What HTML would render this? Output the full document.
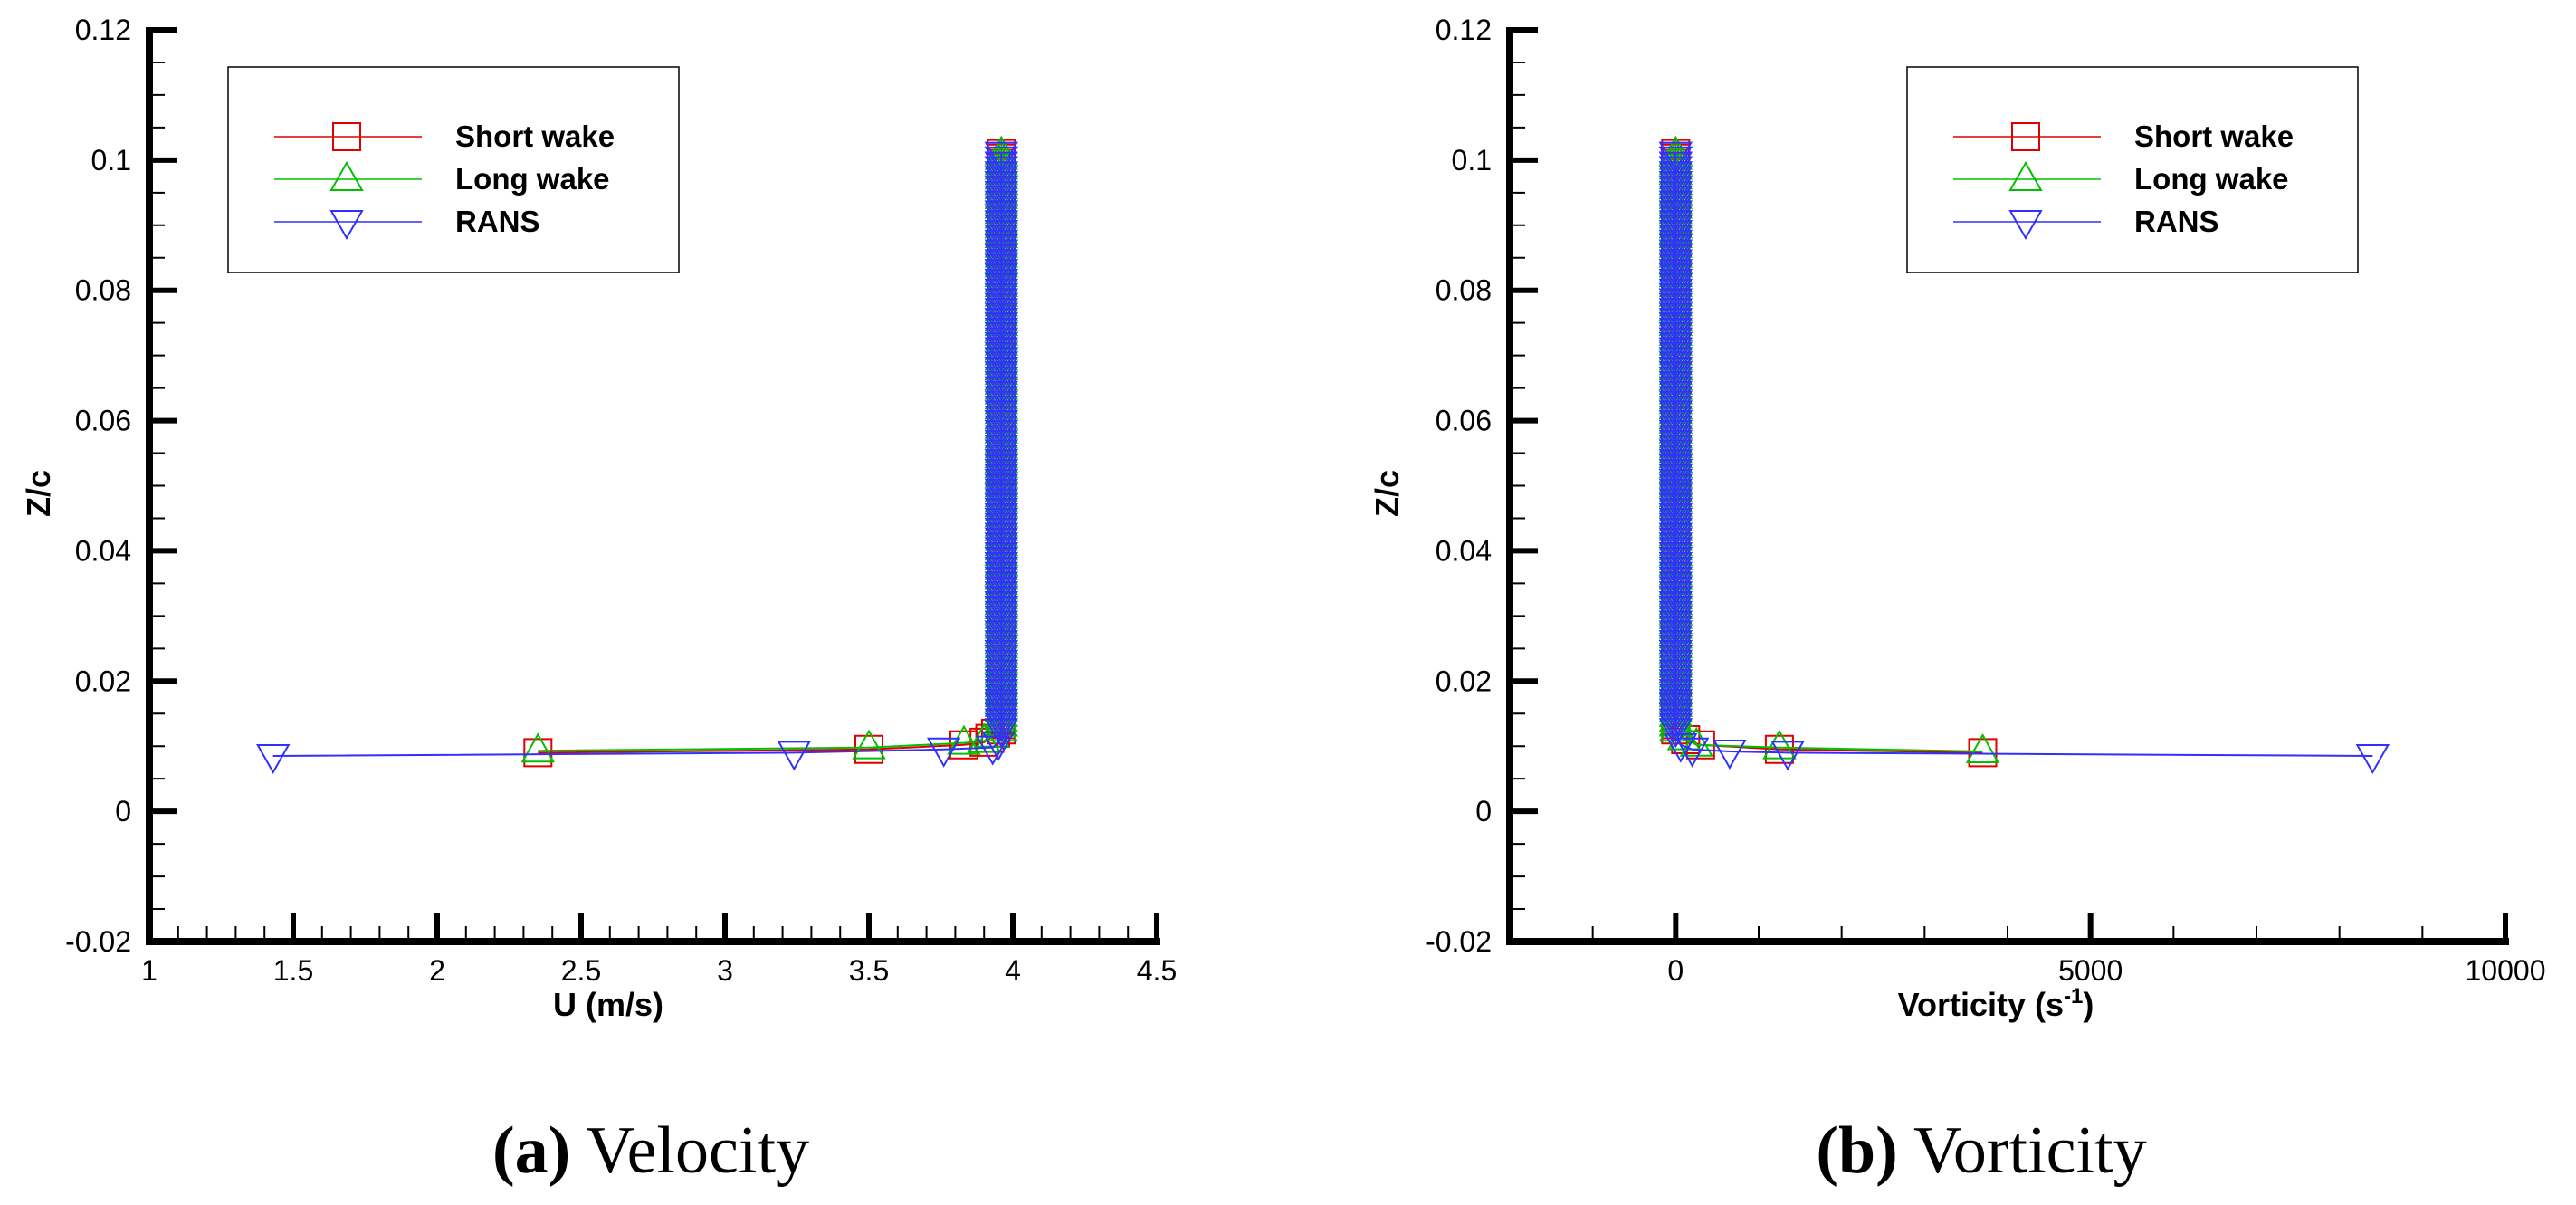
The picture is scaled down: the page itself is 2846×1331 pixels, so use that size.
<!DOCTYPE html>
<html><head><meta charset="utf-8"><style>
html,body{margin:0;padding:0;background:#fff;}
svg{display:block;font-family:"Liberation Sans",sans-serif;}
</style></head><body>
<svg id="fig" width="2846" height="1331" viewBox="0 0 2846 1331"></svg>
<script>
const zTicks=[-0.02,0,0.02,0.04,0.06,0.08,0.1,0.12];
const zTickLabels=["-0.02","0","0.02","0.04","0.06","0.08","0.1","0.12"];
const uTicks=[1,1.5,2,2.5,3,3.5,4,4.5];
const uTickLabels=["1","1.5","2","2.5","3","3.5","4","4.5"];
const wTicks=[0,5000,10000];
const wTickLabels=["0","5000","10000"];
const colZ=[0.0125,0.0133,0.014,0.0148,0.0155,0.0163,0.017,0.0178,0.0185,0.0193,0.02,0.0208,0.0215,0.0223,0.023,0.0238,0.0245,0.0253,0.026,0.0268,0.0275,0.0283,0.029,0.0298,0.0305,0.0313,0.032,0.0328,0.0335,0.0343,0.035,0.0358,0.0365,0.0373,0.038,0.0388,0.0395,0.0403,0.041,0.0418,0.0425,0.0433,0.044,0.0448,0.0455,0.0463,0.047,0.0478,0.0485,0.0493,0.05,0.0508,0.0515,0.0523,0.053,0.0538,0.0545,0.0553,0.056,0.0568,0.0575,0.0583,0.059,0.0598,0.0605,0.0613,0.062,0.0628,0.0635,0.0643,0.065,0.0658,0.0665,0.0673,0.068,0.0688,0.0695,0.0703,0.071,0.0718,0.0725,0.0733,0.074,0.0748,0.0755,0.0763,0.077,0.0778,0.0785,0.0793,0.08,0.0808,0.0815,0.0823,0.083,0.0838,0.0845,0.0853,0.086,0.0868,0.0875,0.0883,0.089,0.0898,0.0905,0.0913,0.092,0.0928,0.0935,0.0943,0.095,0.0958,0.0965,0.0973,0.098,0.0988,0.0995,0.1003,0.101];
const uShortX=[2.35,3.5,3.83,3.9,3.92,3.94];
const uShortZ=[0.009,0.0095,0.0102,0.0106,0.0112,0.012];
const uLongX=[2.35,3.5,3.83,3.9,3.93];
const uLongZ=[0.0093,0.0098,0.0105,0.0108,0.0116];
const uRansX=[1.43,3.24,3.76,3.93,3.95];
const uRansZ=[0.0085,0.009,0.0095,0.0098,0.0105];
const uColumn=3.96;
const wShortX=[3700,1250,300,120];
const wShortZ=[0.009,0.0095,0.0102,0.011];
const wLongX=[3700,1250,250,100];
const wLongZ=[0.0092,0.0098,0.0102,0.0112];
const wRansX=[8400,1350,650,200,60];
const wRansZ=[0.0085,0.009,0.0092,0.0095,0.0102];
const wColumn=0;

const NS="http://www.w3.org/2000/svg";
const svg=document.getElementById('fig');
function mk(tag,attrs,parent,name,inter){
  const e=document.createElementNS(NS,tag);
  for(const k in attrs)e.setAttribute(k,attrs[k]);
  
  
  (parent||svg).appendChild(e);return e;
}
const Y0=1040,Y1=33;
function yS(z){return Y0+(z-(-0.02))/(0.14)*(Y1-Y0);}

function marker(g,type,x,y,color){
  const s=15;
  let p;
  if(type==='sq')p=`M${x-s} ${y-s}H${x+s}V${y+s}H${x-s}Z`;
  else if(type==='up')p=`M${x} ${y-s-3}L${x+s+2} ${y+s-3}L${x-s-2} ${y+s-3}Z`;
  else p=`M${x} ${y+s+3}L${x+s+2} ${y-s+3}L${x-s-2} ${y-s+3}Z`;
  return mk('path',{d:p,fill:'none',stroke:color,'stroke-width':2},g,'marker',false);
}

function panel(opt){
  const g=mk('g',{},svg,opt.name,false);
  const xS=v=>opt.x0+(v-opt.xmin)/(opt.xmax-opt.xmin)*(opt.x1-opt.x0);
  const series=[
    {nm:'short-wake',c:'#e00000',t:'sq',xs:opt.sX,zs:opt.sZ},
    {nm:'long-wake',c:'#00c000',t:'up',xs:opt.lX,zs:opt.lZ},
    {nm:'rans',c:'#3030ff',t:'dn',xs:opt.rX,zs:opt.rZ}];
  series.forEach(s=>{
    const sg=mk('g',{},g,s.nm+'-series',false);
    const xs=s.xs.concat(colZ.map(()=>opt.col));
    const zs=s.zs.concat(colZ);
    const d=xs.map((v,i)=>(i?'L':'M')+xS(v).toFixed(1)+' '+yS(zs[i]).toFixed(1)).join('');
    mk('path',{d:d,fill:'none',stroke:s.c,'stroke-width':2},sg,s.nm+'-line',false);
    xs.forEach((v,i)=>marker(sg,s.t,xS(v),yS(zs[i]),s.c));
  });
  mk('line',{x1:opt.x0,y1:Y0,x2:opt.x1+4,y2:Y0,stroke:'#000','stroke-width':8},g,'x-axis-line',false);
  mk('line',{x1:opt.x0,y1:Y0+4,x2:opt.x0,y2:Y1-3,stroke:'#000','stroke-width':8},g,'y-axis-line',false);
  zTicks.forEach((z,i)=>{
    const y=yS(z);
    mk('line',{x1:opt.x0,y1:y,x2:opt.x0+31,y2:y,stroke:'#000','stroke-width':6},g,'y-major-tick',false);
    const t=mk('text',{x:opt.x0-20,y:y+11,'text-anchor':'end','font-size':32},g,'y-tick-label',false);
    t.textContent=zTickLabels[i];
    if(i<zTicks.length-1)for(let k=1;k<4;k++){const yy=yS(z+0.005*k);
      mk('line',{x1:opt.x0,y1:yy,x2:opt.x0+17,y2:yy,stroke:'#000','stroke-width':2},g,'y-minor-tick',false);}
  });
  opt.ticks.forEach((v,i)=>{
    const x=xS(v);
    mk('line',{x1:x,y1:Y0,x2:x,y2:Y0-31,stroke:'#000','stroke-width':6},g,'x-major-tick',false);
    const t=mk('text',{x:x,y:Y0+43,'text-anchor':'middle','font-size':32},g,'x-tick-label',false);
    t.textContent=opt.labels[i];
  });
  for(let v=opt.xmin+opt.minor;v<opt.xmax-1e-9;v+=opt.minor){
    const x=xS(v);
    mk('line',{x1:x,y1:Y0,x2:x,y2:Y0-17,stroke:'#000','stroke-width':2},g,'x-minor-tick',false);
  }
  const yt=mk('text',{x:opt.yTitleX,y:545,'text-anchor':'middle','font-size':36,'font-weight':'bold',transform:`rotate(-90 ${opt.yTitleX} 545)`},g,'y-axis-title',false);
  yt.textContent='Z/c';
  const xt=mk('text',{x:opt.xTitleX,y:1122,'text-anchor':'middle','font-size':36,'font-weight':'bold'},g,'x-axis-title',false);
  xt.innerHTML=opt.xTitle;
  const lg=mk('g',{},g,'legend',false);
  mk('rect',{x:opt.lx,y:74,width:498,height:227,fill:'#fff',stroke:'#000','stroke-width':1.5},lg,'legend-box',false);
  const ents=[['Short wake','#e00000','sq'],['Long wake','#00c000','up'],['RANS','#3030ff','dn']];
  ents.forEach((e,i)=>{
    const y=151+i*47;
    const eg=mk('g',{},lg,'legend-entry',false);
    mk('line',{x1:opt.lx+51,y1:y,x2:opt.lx+214,y2:y,stroke:e[1],'stroke-width':1.5},eg,'legend-line',false);
    marker(eg,e[2],opt.lx+131,y,e[1]);
    const t=mk('text',{x:opt.lx+251,y:y+11,'font-size':33,'font-weight':'bold'},eg,'legend-label',false);
    t.textContent=e[0];
  });
  const c=mk('text',{x:opt.capX,y:1295,'text-anchor':'middle','font-size':74,'font-family':'"Liberation Serif",serif'},g,'caption',false);
  c.innerHTML=opt.cap;
}
panel({name:'velocity-panel',x0:165,x1:1278,xmin:1,xmax:4.5,ticks:uTicks,labels:uTickLabels,minor:0.1,
  sX:uShortX,sZ:uShortZ,lX:uLongX,lZ:uLongZ,rX:uRansX,rZ:uRansZ,col:uColumn,
  yTitleX:55,xTitleX:672,xTitle:'U (m/s)',lx:252,capX:719,
  cap:'<tspan font-weight="bold">(a)</tspan> Velocity'});
panel({name:'vorticity-panel',x0:1668,x1:2768,xmin:-2000,xmax:10000,ticks:wTicks,labels:wTickLabels,minor:1000,
  sX:wShortX,sZ:wShortZ,lX:wLongX,lZ:wLongZ,rX:wRansX,rZ:wRansZ,col:wColumn,
  yTitleX:1545,xTitleX:2205,xTitle:'Vorticity (s<tspan font-size="24" dy="-14">-1</tspan><tspan dy="14">)</tspan>',lx:2107,capX:2189,
  cap:'<tspan font-weight="bold">(b)</tspan> Vorticity'});
</script>
</body></html>
